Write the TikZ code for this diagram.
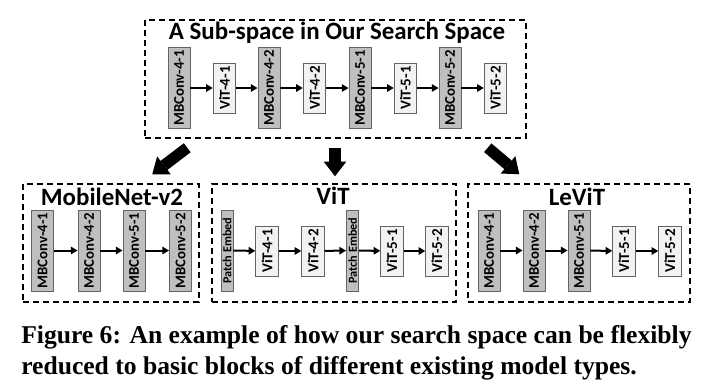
\documentclass[tikz,border=0pt]{standalone}
\usepackage{fontspec}
\setmainfont{Carlito}
\newfontfamily\captionfont{Liberation Serif}
\usepackage{tikz}
\usetikzlibrary{arrows.meta,positioning}

\definecolor{mbfill}{RGB}{191,191,191}
\definecolor{vitfill}{RGB}{242,242,242}
\definecolor{blockedge}{RGB}{100,100,100}

\tikzset{
  mbblock/.style={draw=blockedge,fill=mbfill,line width=0.6pt,rotate=90,inner sep=0pt,
    minimum width=60.75pt,minimum height=16.5pt,font=\bfseries\fontsize{11.1pt}{12pt}\selectfont},
  vitblock/.style={draw=blockedge,fill=vitfill,line width=0.6pt,rotate=90,inner sep=0pt,
    minimum width=37.5pt,minimum height=16.9pt,font=\bfseries\fontsize{11.3pt}{12pt}\selectfont},
  peblock/.style={draw=blockedge,fill=mbfill,line width=0.6pt,rotate=90,inner sep=0pt,
    minimum width=60.75pt,minimum height=9pt,font=\bfseries\fontsize{9.2pt}{9.5pt}\selectfont},
  groupbox/.style={draw,dash pattern=on 4.5pt off 3pt,line width=1.1pt,inner sep=0pt},
  grouptitle/.style={anchor=base,inner sep=0pt,font=\bfseries\fontsize{18.7pt}{21pt}\selectfont},
  flow/.style={line width=1.5pt,-{Triangle[length=5pt,width=5.5pt]}},
  reduce/.style={line width=8.5pt,-{Triangle[length=11pt,width=17pt,line width=0pt]}}
}

\begin{document}
\begin{tikzpicture}[x=0.75pt,y=-0.75pt]
\useasboundingbox (0,0) rectangle (706,387);

% search sub-space
\node[groupbox,minimum width=285.75pt,minimum height=88.5pt] (sub) at (335.5,79) {};
\node[grouptitle] (subtitle) at (337,39) {A Sub-space in Our Search Space};
\node[mbblock] (tmb41) at (179,88) {MBConv-4-1};
\node[vitblock] (tvit41) at (224.5,88) {ViT-4-1};
\node[mbblock] (tmb42) at (269,88) {MBConv-4-2};
\node[vitblock] (tvit42) at (314.5,88) {ViT-4-2};
\node[mbblock] (tmb51) at (360,88) {MBConv-5-1};
\node[vitblock] (tvit51) at (405.5,88) {ViT-5-1};
\node[mbblock] (tmb52) at (450,88) {MBConv-5-2};
\node[vitblock] (tvit52) at (495.5,88) {ViT-5-2};
\draw[flow] (tmb41) -- (tvit41);
\draw[flow] (tvit41) -- (tmb42);
\draw[flow] (tmb42) -- (tvit42);
\draw[flow] (tvit42) -- (tmb51);
\draw[flow] (tmb51) -- (tvit51);
\draw[flow] (tvit51) -- (tmb52);
\draw[flow] (tmb52) -- (tvit52);

% MobileNet-v2
\node[groupbox,minimum width=132pt,minimum height=88.5pt] (mobile) at (111,243) {};
\node[grouptitle] (mobiletitle) at (112,205) {MobileNet-v2};
\node[mbblock] (mmb41) at (42.5,250.5) {MBConv-4-1};
\node[mbblock] (mmb42) at (89,250.5) {MBConv-4-2};
\node[mbblock] (mmb51) at (134,250.5) {MBConv-5-1};
\node[mbblock] (mmb52) at (180.5,250.5) {MBConv-5-2};
\draw[flow] (mmb41) -- (mmb42);
\draw[flow] (mmb42) -- (mmb51);
\draw[flow] (mmb51) -- (mmb52);

% ViT
\node[groupbox,minimum width=183pt,minimum height=88.5pt] (vit) at (334,243) {};
\node[grouptitle] (vittitle) at (333,204) {ViT};
\node[peblock] (vpe1) at (227,250.5) {Patch Embed};
\node[vitblock] (vvit41) at (267,251) {ViT-4-1};
\node[vitblock] (vvit42) at (313,251) {ViT-4-2};
\node[peblock] (vpe2) at (352.5,250.5) {Patch Embed};
\node[vitblock] (vvit51) at (392,251) {ViT-5-1};
\node[vitblock] (vvit52) at (437,251) {ViT-5-2};
\draw[flow] (vpe1) -- (vvit41);
\draw[flow] (vvit41) -- (vvit42);
\draw[flow] (vvit42) -- (vpe2);
\draw[flow] (vpe2) -- (vvit51);
\draw[flow] (vvit51) -- (vvit52);

% LeViT
\node[groupbox,minimum width=166.5pt,minimum height=88.5pt] (levit) at (579,243) {};
\node[grouptitle] (levittitle) at (577,205) {LeViT};
\node[mbblock] (lmb41) at (489,250.5) {MBConv-4-1};
\node[mbblock] (lmb42) at (534,250.5) {MBConv-4-2};
\node[mbblock] (lmb51) at (579,250.5) {MBConv-5-1};
\node[vitblock] (lvit51) at (624,251) {ViT-5-1};
\node[vitblock] (lvit52) at (670,251) {ViT-5-2};
\draw[flow] (lmb41) -- (lmb42);
\draw[flow] (lmb42) -- (lmb51);
\draw[flow] (lmb51) -- (lvit51);
\draw[flow] (lvit51) -- (lvit52);

% reduction arrows
\draw[reduce] ([shift={(43,9)}]sub.south west) -- ([shift={(130,-9)}]mobile.north west);
\draw[reduce] ([shift={(-0.5,9)}]sub.south) -- ([shift={(1,-7)}]vit.north);
\draw[reduce] ([shift={(-39,9)}]sub.south east) -- ([shift={(52,-9)}]levit.north west);

% caption
\node[anchor=base west,inner sep=0pt,align=left,
  font=\captionfont\bfseries\fontsize{19.2pt}{23.25pt}\selectfont] (caption) at (21,374)
  {Figure 6: An example of how our search space can be flexibly\\
   reduced to basic blocks of different existing model types.};
\end{tikzpicture}
\end{document}
